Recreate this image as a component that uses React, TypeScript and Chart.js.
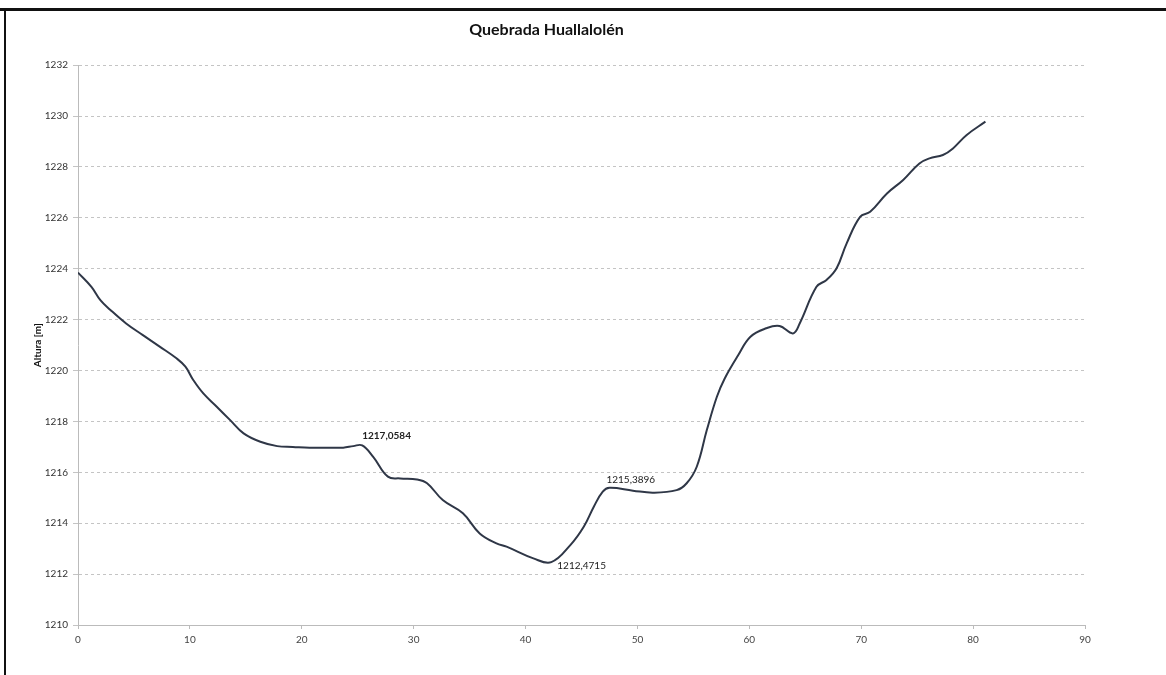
import React, { useEffect, useRef } from "react";
import { Chart, registerables } from "chart.js";

Chart.register(...registerables);

const distance = [
  0, 1.2, 2.0, 2.9, 4.3, 5.8, 7.3, 8.8, 9.6, 10.3, 11.2, 12.4, 13.6, 14.8, 16.3, 17.8, 19.2, 20.7, 23.7, 24.6,
  25.4, 26.4, 27.7, 28.8, 30.3, 31.2, 32.6, 34.4, 35.9, 37.4, 38.3, 40.7, 42.3, 44.0, 45.2, 46.1, 46.9, 47.5,
  49.6, 51.4, 53.5, 54.4, 55.3, 56.2, 57.1, 57.8, 59.0, 60.1, 61.5, 62.7, 63.9, 64.5, 66.0, 66.9, 67.8, 68.7,
  69.9, 70.8, 72.3, 73.75, 75.2, 76.1, 77.3, 78.2, 79.4, 81.1,
];
const elevation = [
  1223.85, 1223.29, 1222.77, 1222.38, 1221.85, 1221.39, 1220.94, 1220.48, 1220.15, 1219.63, 1219.1, 1218.58,
  1218.05, 1217.53, 1217.2, 1217.03, 1217.0, 1216.97, 1216.97, 1217.03, 1217.0584, 1216.6, 1215.83, 1215.76,
  1215.72, 1215.57, 1214.91, 1214.39, 1213.6, 1213.21, 1213.08, 1212.62, 1212.4715, 1213.14, 1213.86, 1214.65,
  1215.24, 1215.3896, 1215.28, 1215.2, 1215.3, 1215.57, 1216.22, 1217.66, 1218.97, 1219.69, 1220.6, 1221.33,
  1221.66, 1221.75, 1221.46, 1221.85, 1223.29, 1223.56, 1224.02, 1225.0, 1226.04, 1226.24, 1226.96, 1227.49,
  1228.14, 1228.34, 1228.47, 1228.73, 1229.25, 1229.78,
];
// indices of the points that carry a value label
const labelledPoints = [20, 32, 37];
const xTicks = [0, 10, 20, 30, 40, 50, 60, 70, 80, 90];
const yTicks = [1210, 1212, 1214, 1216, 1218, 1220, 1222, 1224, 1226, 1228, 1230, 1232];

const chartTitle = "Quebrada Huallalolén";
const yTitle = "Altura [m]";

const FONT = "Lato, 'Open Sans', sans-serif";

export default function App() {
  const canvasRef = useRef<HTMLCanvasElement | null>(null);

  useEffect(() => {
    const canvas = canvasRef.current;
    if (!canvas) return;

    const labelPlugin = {
      id: "valueLabels",
      afterDatasetsDraw(chart: any) {
        const meta = chart.getDatasetMeta(0);
        const ctx = chart.ctx;
        ctx.save();
        ctx.fillStyle = "#222";
        ctx.textBaseline = "middle";
        ctx.textAlign = "left";
        labelledPoints.forEach((idx, k) => {
          const el = meta.data[idx];
          const txt = elevation[idx].toFixed(4).replace(".", ",");
          let dx = 0;
          let dy = -10;
          if (k === 1) {
            dx = 6;
            dy = 4;
          } else if (k === 2) {
            dx = -3;
            dy = -8;
          }
          ctx.font = (k === 0 ? "bold " : "") + "10px " + FONT;
          ctx.fillText(txt, el.x + dx, el.y + dy);
        });
        ctx.restore();
      },
    };

    const chart = new Chart(canvas, {
      type: "scatter",
      data: {
        datasets: [
          {
            data: distance.map((d, i) => ({ x: d, y: elevation[i] })),
            showLine: true,
            borderColor: "#2f3747",
            borderWidth: 2,
            pointRadius: 0,
            tension: 0.4,
            fill: false,
          },
        ],
      },
      options: {
        animation: false,
        responsive: true,
        maintainAspectRatio: false,
        layout: { padding: { left: 8, right: 81, top: 0, bottom: 0 } },
        plugins: {
          legend: { display: false },
          tooltip: { enabled: false },
          title: {
            display: true,
            text: chartTitle,
            color: "#111",
            font: { family: FONT, size: 16, weight: "bold" },
            padding: { top: 20, bottom: 26 },
          },
        },
        scales: {
          x: {
            type: "linear",
            min: 0,
            max: 90,
            afterBuildTicks: (scale: any) => {
              scale.ticks = xTicks.map((v) => ({ value: v }));
            },
            afterFit: (scale: any) => {
              scale.height = 50;
            },
            grid: {
              drawOnChartArea: false,
              drawTicks: true,
              tickLength: 4,
              color: "#bbb",
            },
            border: { display: true, color: "#bbb", dash: [3, 3] },
            ticks: {
              color: "#444",
              padding: 5,
              font: { family: FONT, size: 10 },
              callback: (v: any) => String(v),
            },
          },
          y: {
            type: "linear",
            min: 1210,
            max: 1232,
            afterBuildTicks: (scale: any) => {
              scale.ticks = yTicks.map((v) => ({ value: v }));
            },
            afterFit: (scale: any) => {
              scale.width = 70;
            },
            grid: {
              color: "#c4c4c4",
              tickLength: 5,
              drawTicks: true,
            },
            border: { display: true, color: "#bbb", dash: [3, 3] },
            ticks: {
              color: "#333",
              padding: 5,
              font: { family: FONT, size: 10 },
              callback: (v: any) => String(v),
            },
            title: {
              display: true,
              text: yTitle,
              color: "#111",
              font: { family: FONT, size: 10, weight: "bold" },
              padding: { top: 24, bottom: 0 },
            },
          },
        },
      },
      plugins: [labelPlugin],
    } as any);

    // dashed horizontal gridlines
    (chart.options.scales as any).y.grid.dash = [3, 3];
    chart.update();

    return () => {
      chart.destroy();
    };
  }, []);

  return (
    <div
      style={{
        position: "fixed",
        left: 0,
        top: 0,
        width: 1166,
        height: 675,
        background: "#fff",
        overflow: "hidden",
      }}
    >
      <div
        style={{
          position: "absolute",
          left: 0,
          top: 8,
          width: 1166,
          height: 3,
          background: "#111",
        }}
      />
      <div
        style={{
          position: "absolute",
          left: 4,
          top: 8,
          width: 2,
          height: 667,
          background: "#111",
        }}
      />
      <div style={{ position: "absolute", left: 0, top: 0, width: 1166, height: 675 }}>
        <canvas ref={canvasRef} />
      </div>
    </div>
  );
}
